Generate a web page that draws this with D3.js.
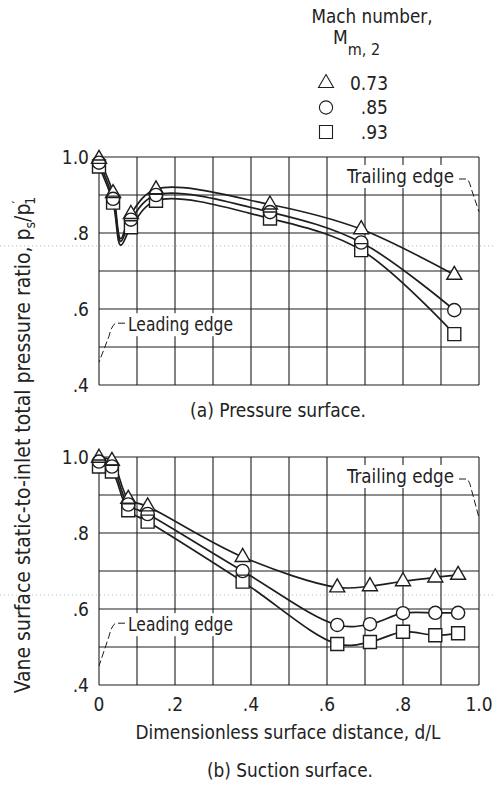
<!DOCTYPE html>
<html>
<head>
<meta charset="utf-8">
<script src="https://cdn.jsdelivr.net/npm/d3@7/dist/d3.min.js"></script>
<style>
  html, body { margin: 0; padding: 0; background: #fff; }
  svg { display: block; }
  text { font-family: "Liberation Sans Narrow", "DejaVu Sans Condensed", "Roboto Condensed", sans-serif; fill: #222; }
</style>
</head>
<body>
<svg id="chart" width="495" height="793"></svg>
<script>
// Mach numbers of the three runs
const machLabels = ["0.73", ".85", ".93"];
const symbolKinds = ["triangle", "circle", "square"];

// (a) Pressure surface: tap locations and static-to-inlet total pressure ratios
const pressureD = [0, 0.037, 0.084, 0.15, 0.45, 0.69, 0.935];
const pressure073 = [0.995, 0.905, 0.85, 0.915, 0.875, 0.81, 0.69];
const pressure085 = [0.985, 0.89, 0.835, 0.90, 0.855, 0.775, 0.597];
const pressure093 = [0.975, 0.88, 0.815, 0.885, 0.838, 0.755, 0.534];
// faired-curve low point just behind the leading edge
const pressureDipD = 0.057;
const pressureDip = [0.785, 0.778, 0.768];

// (b) Suction surface
const suctionD = [0, 0.034, 0.077, 0.128, 0.378, 0.627, 0.713, 0.80, 0.885, 0.945];
const suction073 = [0.998, 0.99, 0.89, 0.87, 0.737, 0.657, 0.66, 0.673, 0.683, 0.69];
const suction085 = [0.988, 0.975, 0.875, 0.85, 0.70, 0.558, 0.56, 0.589, 0.59, 0.59];
const suction093 = [0.975, 0.962, 0.86, 0.83, 0.672, 0.508, 0.513, 0.54, 0.531, 0.536];

const xTicks = [0, 0.2, 0.4, 0.6, 0.8, 1.0];
const xTickLabels = ["0", ".2", ".4", ".6", ".8", "1.0"];
const yTicks = [1.0, 0.8, 0.6, 0.4];
const yTickLabels = ["1.0", ".8", ".6", ".4"];

const svg = d3.select("#chart");
const ink = "#1e1e1e";
const fs = 19;

const x = d3.scaleLinear().domain([0, 1]).range([99, 479]);

const panels = [
  { y: d3.scaleLinear().domain([0.4, 1.0]).range([385, 157]),
    d: pressureD, series: [pressure073, pressure085, pressure093],
    dip: { d: pressureDipD, v: pressureDip },
    caption: "(a) Pressure surface.", captionX: 278, captionY: 417, captionW: 176,
    trailEnd: 0.856, leadEnd: 0.46, xAxis: false },
  { y: d3.scaleLinear().domain([0.4, 1.0]).range([685, 457]),
    d: suctionD, series: [suction073, suction085, suction093],
    dip: null,
    caption: "(b) Suction surface.", captionX: 290, captionY: 777, captionW: 166,
    trailEnd: 0.84, leadEnd: 0.45, xAxis: true }
];

function symbolPath(kind) {
  if (kind === "triangle") return "M0,-8.5L7.5,4.5L-7.5,4.5Z";
  if (kind === "circle") { const p = d3.path(); p.arc(0, 0, 6.6, 0, 2 * Math.PI); p.closePath(); return p.toString(); }
  return "M-6.5,-6.5H6.5V6.5H-6.5Z";
}

// faint dotted fold lines crossing the sheet
[246, 595].forEach(fy => {
  svg.append("line").attr("x1", 0).attr("x2", 495).attr("y1", fy).attr("y2", fy)
    .attr("stroke", "#aaa").attr("stroke-width", 0.8).attr("stroke-dasharray", "1,3");
});

// note text on a white patch that breaks the grid behind it
function note(g, tx, ty, anchor, width, label) {
  const x0 = anchor === "end" ? tx - width : tx;
  g.append("rect").attr("x", x0 - 3).attr("y", ty - 11).attr("width", width + 6).attr("height", 23)
    .attr("fill", "#fff");
  g.append("text").attr("x", tx).attr("y", ty).attr("dy", "0.36em")
    .attr("text-anchor", anchor).attr("font-size", fs)
    .attr("textLength", width).attr("lengthAdjust", "spacingAndGlyphs").text(label);
}

panels.forEach(p => {
  const g = svg.append("g");
  const y = p.y;

  // grid: every 0.1 in both directions
  const gx = d3.range(0, 11).map(i => i / 10);
  const gy = d3.range(4, 11).map(i => i / 10);
  g.append("g").selectAll("line").data(gx).join("line")
    .attr("x1", d => x(d)).attr("x2", d => x(d))
    .attr("y1", y(1.0)).attr("y2", y(0.4))
    .attr("stroke", ink).attr("stroke-width", 1.1);
  g.append("g").selectAll("line").data(gy).join("line")
    .attr("x1", x(0)).attr("x2", x(1))
    .attr("y1", d => y(d)).attr("y2", d => y(d))
    .attr("stroke", ink).attr("stroke-width", 1.1);

  // y axis labels
  g.append("g").selectAll("text").data(yTicks).join("text")
    .attr("x", x(0) - 10).attr("y", d => y(d)).attr("dy", "0.36em")
    .attr("text-anchor", "end").attr("font-size", fs)
    .text((d, i) => yTickLabels[i]);

  if (p.xAxis) {
    g.append("g").selectAll("text").data(xTicks).join("text")
      .attr("x", d => x(d)).attr("y", y(0.4) + 19).attr("dy", "0.36em")
      .attr("text-anchor", "middle").attr("font-size", fs)
      .text((d, i) => xTickLabels[i]);
  }

  // leading edge note
  const ly = y(0.56);
  note(g, x(0) + 29, ly, "start", 105, "Leading edge");
  g.append("path")
    .attr("d", `M${x(0) + 26},${ly - 1}H${x(0) + 17}Q${x(0) + 13},${ly} ${x(0) + 10},${ly + 12}L${x(0)},${y(p.leadEnd)}`)
    .attr("fill", "none").attr("stroke", ink).attr("stroke-width", 1).attr("stroke-dasharray", "7,3");

  // trailing edge note
  const ty = y(0.95);
  note(g, x(1) - 25, ty, "end", 107, "Trailing edge");
  g.append("path")
    .attr("d", `M${x(1) - 20},${ty + 3}H${x(1) - 13}Q${x(1) - 10},${ty + 3} ${x(1) - 8},${ty + 12}L${x(1)},${y(p.trailEnd)}`)
    .attr("fill", "none").attr("stroke", ink).attr("stroke-width", 1).attr("stroke-dasharray", "7,3");

  // faired curves
  const line = d3.line().x(d => x(d[0])).y(d => y(d[1])).curve(d3.curveCatmullRom.alpha(0.5));
  p.series.forEach((vals, si) => {
    let pts = p.d.map((d, i) => [d, vals[i]]);
    if (p.dip) pts.splice(2, 0, [p.dip.d, p.dip.v[si]]);
    g.append("path").attr("d", line(pts))
      .attr("fill", "none").attr("stroke", ink).attr("stroke-width", 1.7);
  });

  // symbols: white bodies first so outlines of overlapping symbols stay visible
  const marks = [];
  p.series.forEach((vals, si) => p.d.forEach((d, i) => marks.push({ d, v: vals[i], kind: symbolKinds[si] })));
  g.append("g").selectAll("path").data(marks).join("path")
    .attr("transform", m => `translate(${x(m.d)},${y(m.v)})`)
    .attr("d", m => symbolPath(m.kind)).attr("fill", "#fff").attr("stroke", "none");
  g.append("g").selectAll("path").data(marks).join("path")
    .attr("transform", m => `translate(${x(m.d)},${y(m.v)})`)
    .attr("d", m => symbolPath(m.kind)).attr("fill", "none")
    .attr("stroke", ink).attr("stroke-width", 1.4);

  svg.append("text").attr("x", p.captionX).attr("y", p.captionY)
    .attr("text-anchor", "middle").attr("font-size", fs)
    .attr("textLength", p.captionW).attr("lengthAdjust", "spacingAndGlyphs").text(p.caption);
});

// x axis title
svg.append("text").attr("x", 288).attr("y", 739).attr("text-anchor", "middle")
  .attr("font-size", fs).attr("textLength", 305).attr("lengthAdjust", "spacingAndGlyphs")
  .text("Dimensionless surface distance, d/L");

// y axis title with p_s / p'_1
const yt = svg.append("text").attr("transform", "translate(30,445) rotate(-90)")
  .attr("text-anchor", "middle").attr("font-size", 21);
yt.append("tspan").text("Vane surface static-to-inlet total pressure ratio, p");
yt.append("tspan").attr("font-size", 14).attr("dy", 5).text("s");
yt.append("tspan").attr("dy", -5).text("/p");
yt.append("tspan").attr("font-size", 14).attr("dy", -8).text("′");
yt.append("tspan").attr("font-size", 14).attr("dx", -4).attr("dy", 13).text("1");

// legend
const leg = svg.append("g");
leg.append("text").attr("x", 372).attr("y", 16).attr("dy", "0.36em")
  .attr("text-anchor", "middle").attr("font-size", fs)
  .attr("textLength", 121).attr("lengthAdjust", "spacingAndGlyphs").text("Mach number,");
const mt = leg.append("text").attr("x", 333).attr("y", 37).attr("dy", "0.36em").attr("font-size", fs);
mt.append("tspan").text("M");
mt.append("tspan").attr("font-size", 16).attr("dy", 11).text("m, 2");
machLabels.forEach((lab, i) => {
  const cy = 83 + i * 24.5;
  leg.append("path").attr("transform", `translate(326,${cy})`)
    .attr("d", symbolPath(symbolKinds[i])).attr("fill", "none")
    .attr("stroke", ink).attr("stroke-width", 1.1);
  leg.append("text").attr("x", 388).attr("y", cy).attr("dy", "0.36em")
    .attr("text-anchor", "end").attr("font-size", fs).text(lab);
});
</script>
</body>
</html>
